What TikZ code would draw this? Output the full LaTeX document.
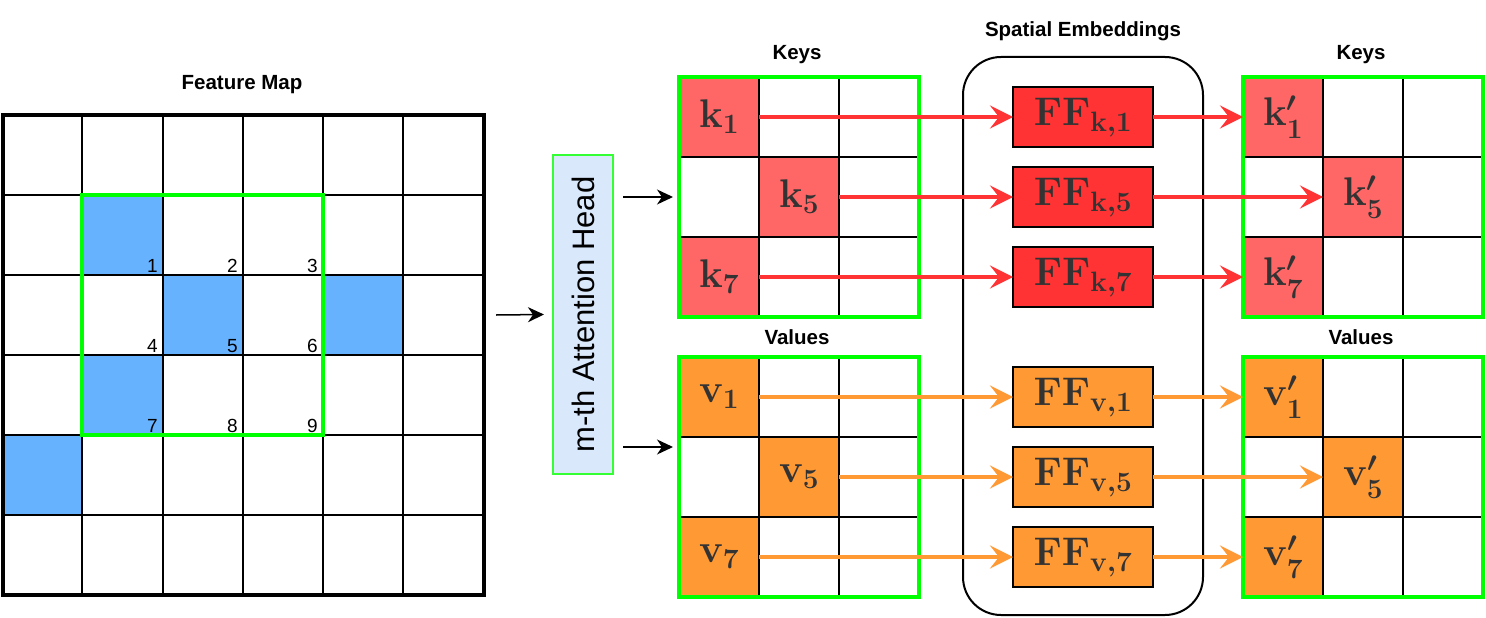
\RequirePackage{fix-cm}
\documentclass[tikz,border=0pt]{standalone}
\usepackage{fontspec}
\setsansfont{Liberation Sans}
\usetikzlibrary{arrows.meta,calc}
\definecolor{blu}{HTML}{66B2FF}
\definecolor{grn}{HTML}{00FF00}
\definecolor{hgrn}{HTML}{33FF33}
\definecolor{hfill}{HTML}{DAE8FC}
\definecolor{kred}{HTML}{FF6666}
\definecolor{ffred}{HTML}{FF3333}
\definecolor{vor}{HTML}{FF9933}
\definecolor{txt}{HTML}{333333}
\tikzset{
  lbl/.style={font=\sffamily\bfseries\fontsize{20.5}{24}\selectfont},
  numlbl/.style={font=\sffamily\fontsize{19}{22}\selectfont, anchor=base east, inner sep=0pt},
  gcell/.style={draw=black, line width=2pt, minimum size=80pt, inner sep=0pt, outer sep=0pt},
  gframe/.style={draw=grn, line width=4pt, minimum size=240pt, inner sep=0pt, outer sep=0pt},
  mtxt/.style={text=txt, font=\fontsize{40}{44}\selectfont\boldmath},
  ffbox/.style={draw=black, line width=2.5pt, minimum width=140pt, minimum height=60pt, inner sep=0pt, outer sep=0pt, mtxt},
  redar/.style={draw=ffred, line width=3.5pt, -{Stealth[length=23pt,width=23pt,inset=9pt]}},
  orar/.style={draw=vor, line width=3.5pt, -{Stealth[length=23pt,width=23pt,inset=9pt]}},
  blkar/.style={draw=black, line width=1.5pt, -{Stealth[length=16pt,width=15pt,inset=5pt]}}
}
\begin{document}
\begin{tikzpicture}[x=1pt,y=-1pt]
\useasboundingbox (0,0) rectangle (1486,618);
% ---------- Feature map ----------
\node[lbl] (fmtitle) at (242,85) {Feature Map};
\fill[blu] (82,195) rectangle (163,275);
\fill[blu] (163,275) rectangle (243,355);
\fill[blu] (323,275) rectangle (403,355);
\fill[blu] (82,355) rectangle (163,435);
\fill[blu] (3,435) rectangle (82,515);
\foreach \x in {82,163,243,323,403} \draw[line width=2pt] (\x,115) -- (\x,595);
\foreach \y in {195,275,355,435,515} \draw[line width=2pt] (3,\y) -- (484,\y);
\draw[grn, line width=4pt] (82,195) rectangle (323,435);
\draw[line width=4pt] (3,115) rectangle (484,595);
\foreach \n/\x/\y in {1/163/275,2/243/275,3/323/275,4/163/355,5/243/355,6/323/355,7/163/435,8/243/435,9/323/435}
  \node[numlbl] (num\n) at ({\x-5},{\y-3}) {\n};
% ---------- Attention head ----------
\node[draw=hgrn, fill=hfill, line width=1.5pt, rotate=90, minimum width=319pt, minimum height=60pt, inner sep=0pt, outer sep=0pt,
      font=\sffamily\fontsize{31}{35}\selectfont] (head) at (583,314.5) {m-th Attention Head};
\coordinate (fmout) at (496,315);
\draw[blkar] (fmout) -- ([xshift=-9pt]head.north);
% ---------- Left keys / values ----------
\node[lbl] (keysLt) at (797,55) {Keys};
\node[lbl] (valsLt) at (797,337) {Values};
\foreach \r in {1,2,3}{\foreach \c in {1,2,3}{
  \node[gcell] (kl-\r-\c) at ({679+80*\c-40},{77+80*\r-40}) {};
  \node[gcell] (vl-\r-\c) at ({679+80*\c-40},{357+80*\r-40}) {};
  \node[gcell] (kr-\r-\c) at ({1243+80*\c-40},{77+80*\r-40}) {};
  \node[gcell] (vr-\r-\c) at ({1243+80*\c-40},{357+80*\r-40}) {};
}}
\node[gcell, fill=kred, mtxt] (k1) at (719,117) {$\mathbf{k_1}$};
\node[gcell, fill=kred, mtxt] (k5) at (799,197) {$\mathbf{k_5}$};
\node[gcell, fill=kred, mtxt] (k7) at (719,277) {$\mathbf{k_7}$};
\node[gcell, fill=vor, mtxt] (v1) at (719,397) {$\mathbf{v_1}$};
\node[gcell, fill=vor, mtxt] (v5) at (799,477) {$\mathbf{v_5}$};
\node[gcell, fill=vor, mtxt] (v7) at (719,557) {$\mathbf{v_7}$};
\node[gframe] (keysL) at (799,197) {};
\node[gframe] (valsL) at (799,477) {};
% ---------- Right keys / values ----------
\node[lbl] (keysRt) at (1361,55) {Keys};
\node[lbl] (valsRt) at (1361,337) {Values};
\node[gcell, fill=kred, mtxt] (kp1) at (1283,117) {$\mathbf{k}'_{\mathbf{1}}$};
\node[gcell, fill=kred, mtxt] (kp5) at (1363,197) {$\mathbf{k}'_{\mathbf{5}}$};
\node[gcell, fill=kred, mtxt] (kp7) at (1283,277) {$\mathbf{k}'_{\mathbf{7}}$};
\node[gcell, fill=vor, mtxt] (vp1) at (1283,397) {$\mathbf{v}'_{\mathbf{1}}$};
\node[gcell, fill=vor, mtxt] (vp5) at (1363,477) {$\mathbf{v}'_{\mathbf{5}}$};
\node[gcell, fill=vor, mtxt] (vp7) at (1283,557) {$\mathbf{v}'_{\mathbf{7}}$};
\node[gframe] (keysR) at (1363,197) {};
\node[gframe] (valsR) at (1363,477) {};
% ---------- Spatial embeddings ----------
\node[lbl] (setitle) at (1083,31) {Spatial Embeddings};
\node[draw=black, line width=2pt, rounded corners=38pt, minimum width=240pt, minimum height=558pt, inner sep=0pt, outer sep=0pt] (se) at (1083,336) {};
\node[ffbox, fill=ffred] (ffk1) at (1083,117) {$\mathbf{FF_{k,1}}$};
\node[ffbox, fill=ffred] (ffk5) at (1083,197) {$\mathbf{FF_{k,5}}$};
\node[ffbox, fill=ffred] (ffk7) at (1083,277) {$\mathbf{FF_{k,7}}$};
\node[ffbox, fill=vor] (ffv1) at (1083,397) {$\mathbf{FF_{v,1}}$};
\node[ffbox, fill=vor] (ffv5) at (1083,477) {$\mathbf{FF_{v,5}}$};
\node[ffbox, fill=vor] (ffv7) at (1083,557) {$\mathbf{FF_{v,7}}$};
% ---------- Arrows ----------
\coordinate (hk) at (623,197);
\coordinate (hv) at (623,447);
\draw[blkar, shorten >=6pt] (hk) -- (keysL.west);
\draw[blkar, shorten >=6pt] (hv) -- ($(valsL.north west)!0.375!(valsL.south west)$);
\draw[redar] (k1.east) -- (ffk1.west);
\draw[redar] (k5.east) -- (ffk5.west);
\draw[redar] (k7.east) -- (ffk7.west);
\draw[redar] (ffk1.east) -- (kp1.west);
\draw[redar] (ffk5.east) -- (kp5.west);
\draw[redar] (ffk7.east) -- (kp7.west);
\draw[orar] (v1.east) -- (ffv1.west);
\draw[orar] (v5.east) -- (ffv5.west);
\draw[orar] (v7.east) -- (ffv7.west);
\draw[orar] (ffv1.east) -- (vp1.west);
\draw[orar] (ffv5.east) -- (vp5.west);
\draw[orar] (ffv7.east) -- (vp7.west);
\end{tikzpicture}
\end{document}
